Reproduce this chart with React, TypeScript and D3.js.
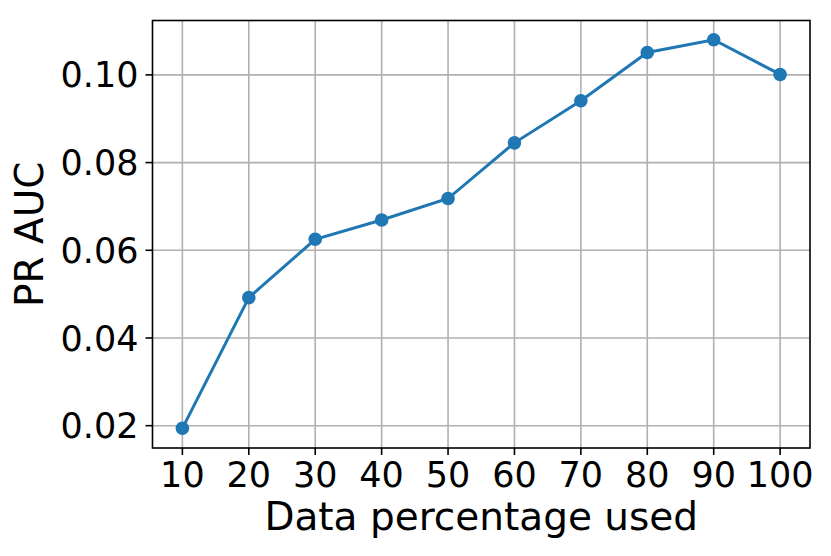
import React from "react";
import * as d3 from "d3";

const xValues = [10, 20, 30, 40, 50, 60, 70, 80, 90, 100];
const prAuc = [0.0194, 0.0492, 0.0625, 0.0669, 0.0718, 0.0845, 0.0941, 0.1051, 0.108, 0.1001];
const yTicks = [0.02, 0.04, 0.06, 0.08, 0.1];
const xTicks = [10, 20, 30, 40, 50, 60, 70, 80, 90, 100];

export default function App() {
  const W = 831, H = 556;
  const L = 152.5, R = 810, T = 20.5, B = 448;
  const x = d3.scaleLinear().domain([5.5, 104.5]).range([L, R]);
  const y = d3.scaleLinear().domain([0.01491, 0.1124]).range([B, T]);
  const line = d3.line<number>().x((_, i) => x(xValues[i])).y((d) => y(d));
  const font = "DejaVu Sans, sans-serif";
  return (
    <svg width={W} height={H} style={{ position: "absolute", left: 0, top: 0 }}>
      <rect width={W} height={H} fill="white" />
      {xTicks.map((t) => (
        <line key={"gx" + t} x1={x(t)} x2={x(t)} y1={T} y2={B} stroke="#b0b0b0" strokeWidth={1.6} />
      ))}
      {yTicks.map((t) => (
        <line key={"gy" + t} x1={L} x2={R} y1={y(t)} y2={y(t)} stroke="#b0b0b0" strokeWidth={1.6} />
      ))}
      <path d={line(prAuc) || ""} fill="none" stroke="#1f77b4" strokeWidth={3} />
      {prAuc.map((v, i) => (
        <circle key={i} cx={x(xValues[i])} cy={y(v)} r={6.8} fill="#1f77b4" />
      ))}
      <rect x={L} y={T} width={R - L} height={B - T} fill="none" stroke="black" strokeWidth={1.6} />
      {xTicks.map((t) => (
        <g key={"tx" + t}>
          <line x1={x(t)} x2={x(t)} y1={B} y2={B + 7} stroke="black" strokeWidth={1.6} />
          <text x={x(t)} y={487} textAnchor="middle" fontFamily={font} fontSize={35} fill="black">
            {t}
          </text>
        </g>
      ))}
      {yTicks.map((t) => (
        <g key={"ty" + t}>
          <line x1={L - 7} x2={L} y1={y(t)} y2={y(t)} stroke="black" strokeWidth={1.6} />
          <text x={L - 14} y={y(t)} dy="0.36em" textAnchor="end" fontFamily={font} fontSize={35} fill="black">
            {d3.format(".2f")(t)}
          </text>
        </g>
      ))}
      <text x={(L + R) / 2} y={530} textAnchor="middle" fontFamily={font} fontSize={39} fill="black">
        Data percentage used
      </text>
      <text transform={`translate(43, ${(T + B) / 2}) rotate(-90)`} textAnchor="middle" fontFamily={font} fontSize={39} fill="black">
        PR AUC
      </text>
    </svg>
  );
}
